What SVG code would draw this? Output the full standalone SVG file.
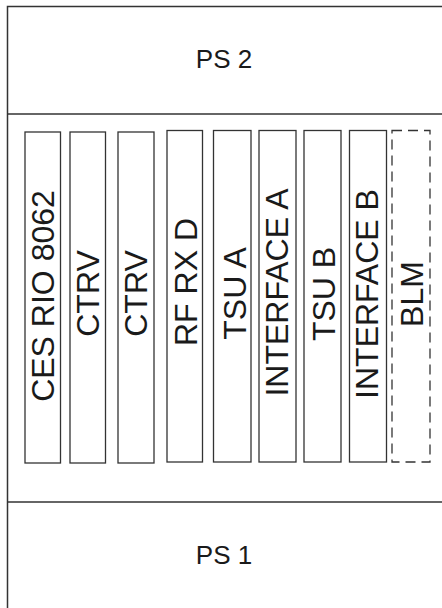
<svg xmlns="http://www.w3.org/2000/svg" width="442" height="608" viewBox="0 0 442 608">
<style>
  .frame { fill: #ffffff; stroke: #333333; stroke-width: 1.5; }
  .sep { stroke: #333333; stroke-width: 1.5; fill: none; }
  .slot { fill: #ffffff; stroke: #333333; stroke-width: 1.3; }
  .dashed { fill: #ffffff; stroke: #333333; stroke-width: 1.3; stroke-dasharray: 10 6; }
  .ps { font-family: "Liberation Sans", Arial, sans-serif; font-size: 26px; fill: #1a1a1a; text-anchor: middle; }
  .lbl { font-family: "Liberation Sans", Arial, sans-serif; font-size: 32px; fill: #1a1a1a; text-anchor: middle; }
</style>
<rect width="442" height="608" fill="#ffffff"/>
<g id="chassis">
  <rect class="frame" x="7.5" y="6.5" width="445" height="620"/>
</g>
<g id="separators">
  <line class="sep" x1="7.5" y1="114" x2="450" y2="114"/>
  <line class="sep" x1="7.5" y1="502" x2="450" y2="502"/>
</g>
<g id="ps2">
  <text class="ps" x="224" y="68">PS 2</text>
</g>
<g id="ps1">
  <text class="ps" x="224" y="564">PS 1</text>
</g>
<g id="slot1">
  <rect class="slot" x="25" y="132" width="35.5" height="331"/>
  <text class="lbl" transform="translate(54,296) rotate(-90)">CES RIO 8062</text>
</g>
<g id="slot2">
  <rect class="slot" x="70" y="132" width="35.5" height="331"/>
  <text class="lbl" transform="translate(99,293.5) rotate(-90)">CTRV</text>
</g>
<g id="slot3">
  <rect class="slot" x="118" y="132" width="36" height="331"/>
  <text class="lbl" transform="translate(147,293.5) rotate(-90)">CTRV</text>
</g>
<g id="slot4">
  <rect class="slot" x="167" y="130.5" width="35.5" height="331.5"/>
  <text class="lbl" transform="translate(196.5,282) rotate(-90)">RF RX D</text>
</g>
<g id="slot5">
  <rect class="slot" x="213.5" y="130.5" width="37.5" height="331.5"/>
  <text class="lbl" transform="translate(245.5,293.5) rotate(-90)">TSU A</text>
</g>
<g id="slot6">
  <rect class="slot" x="259" y="130.5" width="37" height="331.5"/>
  <text class="lbl" transform="translate(287.5,292.5) rotate(-90)">INTERFACE A</text>
</g>
<g id="slot7">
  <rect class="slot" x="304" y="130.5" width="37" height="331.5"/>
  <text class="lbl" transform="translate(334.5,294) rotate(-90)">TSU B</text>
</g>
<g id="slot8">
  <rect class="slot" x="349.5" y="130.5" width="37" height="331.5"/>
  <text class="lbl" transform="translate(378,294) rotate(-90)">INTERFACE B</text>
</g>
<g id="slot9">
  <rect class="dashed" x="392" y="130.5" width="38" height="331.5"/>
  <text class="lbl" transform="translate(423,294) rotate(-90)">BLM</text>
</g>
<g id="connectors"></g>
</svg>
